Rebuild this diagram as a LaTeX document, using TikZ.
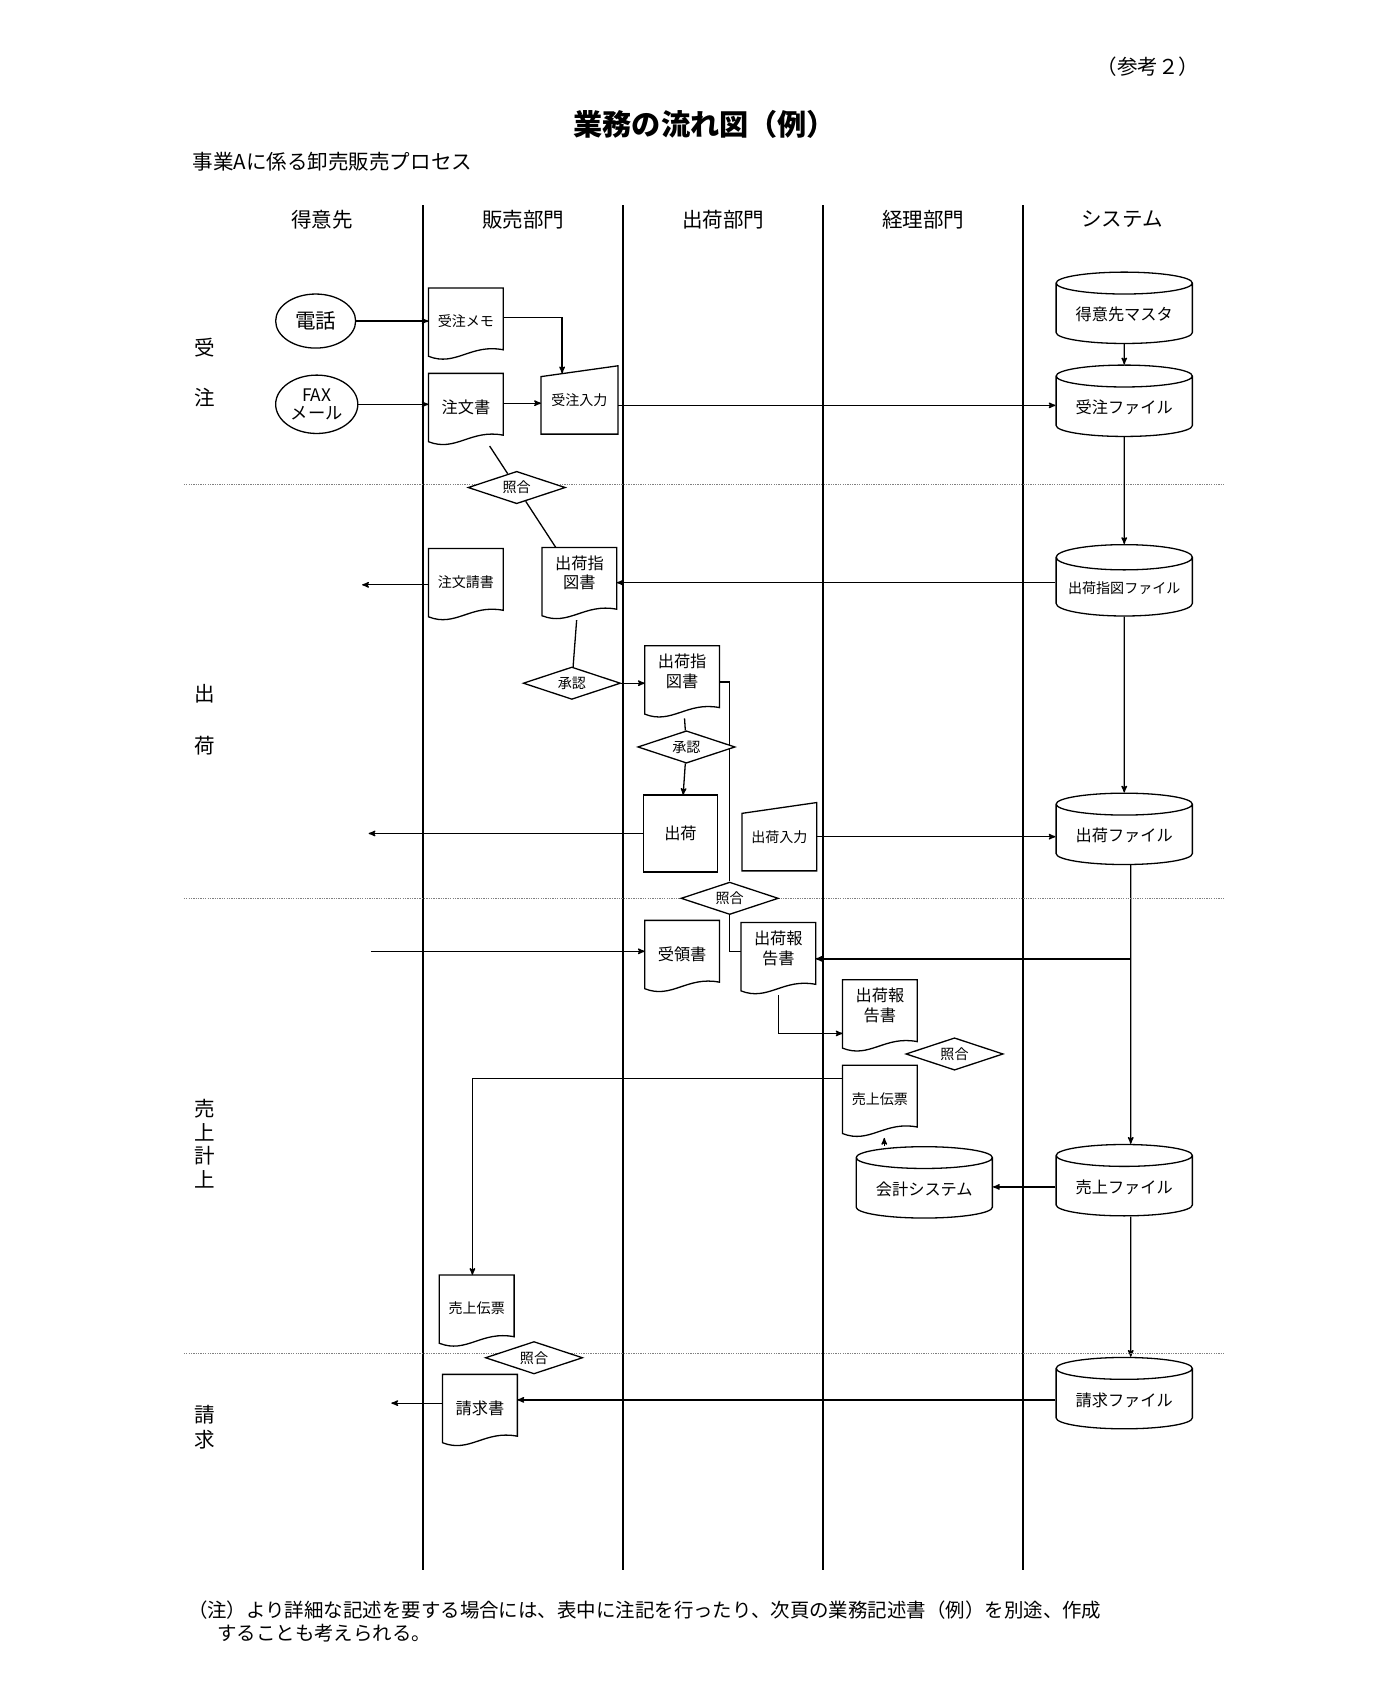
\documentclass[tikz,border=0pt]{standalone}
\usepackage{fontspec}
\setmainfont{Noto Sans CJK JP}
\usetikzlibrary{arrows,shapes.geometric,positioning,backgrounds}

\newcommand{\fs}[1]{\fontsize{#1}{#1}\selectfont}

\tikzset{
  doc/.style = {fill=white, minimum width=68pt, minimum height=66pt, inner sep=1pt, align=center, font=\fs{13}},
  minp/.style = {minimum width=70pt, minimum height=62pt, inner sep=1pt, font=\fs{13}},
  db/.style = {cylinder, draw, fill=white, shape border rotate=90, aspect=0.22,
    minimum width=126pt, minimum height=66pt, inner sep=1pt, font=\fs{15}},
  chk/.style = {diamond, draw, fill=white, aspect=3, inner sep=0pt, minimum width=90pt, minimum height=30pt, font=\fs{13}},
  term/.style = {ellipse, draw, fill=white, inner sep=1pt, align=center, font=\fs{19}},
  lane/.style = {font=\fs{19}},
  every path/.style = {line width=1.2pt}
}

\begin{document}
\begin{tikzpicture}[x=1pt, y=-1pt, >=stealth']
	\useasboundingbox (0,0) rectangle (1295,1568);
	
	% titles
	\node (ref)   at (1062,62)  {\fs{19}（参考２）};
	\node (title) at (652,115)  {\fs{27}\bfseries 業務の流れ図（例）};
	\node[anchor=west] (sub) at (170,150) {\fs{19} 事業Aに係る卸売販売プロセス};
	
	% lanes
	\node[lane] (h1) at (298,203)  {得意先};
	\node[lane] (h2) at (484,203)  {販売部門};
	\node[lane] (h3) at (669,203)  {出荷部門};
	\node[lane] (h4) at (854,203)  {経理部門};
	\node[lane] (h5) at (1038,203) {システム};
	\foreach \x in {391,576,761,946}
		\draw[line width=2pt] (\x,190) -- (\x,1452);
	\foreach \y in {448,831,1252}
		\draw[densely dotted, gray, line width=0.6pt] (170,\y) -- (1133,\y);
	
	% phases
	\node[lane] (p1) at (189,322) {受};
	\node[lane] (p2) at (189,368) {注};
	\node[lane] (p3) at (189,642) {出};
	\node[lane] (p4) at (189,690) {荷};
	\node[lane, align=center, inner sep=0pt] (p5) at (189,1058) {売\\[3pt]上\\[3pt]計\\[3pt]上};
	\node[lane, align=center, inner sep=0pt] (p6) at (189,1320) {請\\[4pt]求};
	
	% nodes
	\node[term, minimum width=74pt, minimum height=50pt] (tel) at (292,297) {電話};
	\node[term, minimum width=76pt, minimum height=54pt, font=\fs{16}] (fax) at (293,374) {FAX\\[1pt]メール};
	\node[doc] (memo)  at (431,300) {\raisebox{6pt}{受注メモ}};
	\node[doc] (order) at (431,379) {\fs{15}\raisebox{6pt}{注文書}};
	\node[minp] (inp)  at (536,370) {\raisebox{-6pt}{受注入力}};
	\node[chk] (chk1)  at (478,451) {照合};
	\node[doc] (ack)   at (431,541) {\raisebox{6pt}{注文請書}};
	\node[doc, font=\fs{15}] (shipA) at (536,540) {出荷指\\[3pt]図書\\[6pt]};
	\node[chk] (app1)  at (529,632) {承認};
	\node[doc, font=\fs{15}] (shipB) at (631,631) {出荷指\\[3pt]図書\\[6pt]};
	\node[chk] (app2)  at (635,691) {承認};
	\node[fill=white, minimum width=67pt, minimum height=70pt, font=\fs{15}] (ship) at (629.5,771) {出荷};
	\node[minp, minimum width=68pt] (shinp) at (721,774) {\raisebox{-6pt}{出荷入力}};
	\node[chk] (chk2)  at (675,831) {照合};
	\node[doc] (rcpt)  at (631,885) {\fs{15}\raisebox{6pt}{受領書}};
	\node[doc, font=\fs{15}] (repA)  at (720,887) {出荷報\\[3pt]告書\\[6pt]};
	\node[doc, font=\fs{15}] (repB)  at (814,940) {出荷報\\[3pt]告書\\[6pt]};
	\node[chk] (chk3)  at (883,975) {照合};
	\node[doc] (slipA) at (814,1019) {\raisebox{6pt}{売上伝票}};
	\node[db]  (acc)   at (855,1100) {\raisebox{-6pt}{会計システム}};
	\node[doc] (slipB) at (441,1213) {\raisebox{6pt}{売上伝票}};
	\node[chk] (chk4)  at (494,1256) {照合};
	\node[doc] (inv)   at (444,1305) {\fs{15}\raisebox{6pt}{請求書}};
	
	\node[db] (cust) at (1040,291)  {\raisebox{-6pt}{得意先マスタ}};
	\node[db] (ordf) at (1040,377)  {\raisebox{-6pt}{受注ファイル}};
	\node[db, font=\fs{13}] (shf)  at (1040,544) {\raisebox{-6pt}{出荷指図ファイル}};
	\node[db] (shpf) at (1040,773)  {\raisebox{-6pt}{出荷ファイル}};
	\node[db] (salf) at (1040,1098) {\raisebox{-6pt}{売上ファイル}};
	\node[db] (invf) at (1040,1295) {\raisebox{-6pt}{請求ファイル}};
	
	% outlines
	\draw (ship.north west) rectangle (ship.south east);
	\foreach \n in {memo,order,ack,shipA,shipB,rcpt,repA,repB,slipA,slipB,inv}
		\draw (\n.north west) -- (\n.north east) -- ([yshift=10pt]\n.south east)
			.. controls ([xshift=-30pt,yshift=16pt]\n.south east) and ([xshift=25pt,yshift=-6pt]\n.south west)
			.. ([yshift=4pt]\n.south west) -- cycle;
	\foreach \n in {inp,shinp}
		\draw ([yshift=-10pt]\n.north west) -- (\n.north east) -- (\n.south east) -- (\n.south west) -- cycle;
	
	\coordinate (ackout)  at (335,541);
	\coordinate (shipout) at (341,771);
	\coordinate (rcptin)  at (343,880);
	\coordinate (invout)  at (362,1298);
	
	% bottom note
	\node[anchor=west, align=left, font=\fs{18}] (note) at (170,1500)
		{（注）より詳細な記述を要する場合には、表中に注記を行ったり、次頁の業務記述書（例）を別途、作成\\[4pt]
		\hspace*{1.5em}することも考えられる。};
	
	% connectors
	\begin{scope}[on background layer]
	\draw[->] (tel) -- (tel -| memo.west);
	\draw[->] (fax) -- (fax -| order.west);
	\draw[->] ([yshift=6pt]memo.east) -| ([xshift=-16pt,yshift=-7pt]inp.north);
	\draw[->] ([yshift=6pt]order.east) -- ([yshift=6pt]order.east -| inp.west);
	\draw[->] ([yshift=-5pt]inp.east) -- ([yshift=-5pt]inp.east -| ordf.west);
	\draw[->] (cust) -- (ordf);
	\draw[->] (ordf) -- (shf);
	\draw (order) -- (chk1) -- (shipA);
	\draw[->] ([yshift=5pt]shf.west) -- ([yshift=5pt]shf.west -| shipA.east);
	\draw[->] (ack) -- (ackout);
	\draw (shipA) -- (app1);
	\draw[->] (app1.east) -- (app1.east -| shipB.west);
	\draw (shipB) -- (app2);
	\draw[->] (app2) -- (ship);
	\draw (shipB.east) -| (chk2.north);
	\draw (chk2.south) |- ([yshift=7pt]repA.west);
	\draw[->] (shf) -- (shpf);
	\draw[->] (ship.west) -- (shipout);
	\draw[->] (shinp.east) -- (shinp.east -| shpf.west);
	\draw[->] (rcptin) -- (rcptin -| rcpt.west);
	\draw[->] ([xshift=6pt]shpf.south) -- ([xshift=6pt]salf.north);
	\draw[->] ([xshift=6pt]shpf.south) |- (repA.east);
	\draw[->] (repA.south) |- ([yshift=-16pt]repB.west);
	\draw[->] ([yshift=21pt]slipA.west) -| ([xshift=-4pt]slipB.north);
	\draw[->] ([xshift=4pt]slipA.south |- acc.north) -- ([xshift=4pt]slipA.south);
	\draw[->] (salf.west) -- (salf.west -| acc.east);
	\draw[->] ([xshift=6pt]salf.south) -- ([xshift=6pt]invf.north);
	\draw[->] (invf.west) -- (invf.west -| inv.east);
	\draw[->] (invout -| inv.west) -- (invout);
	\end{scope}
\end{tikzpicture}
\end{document}
